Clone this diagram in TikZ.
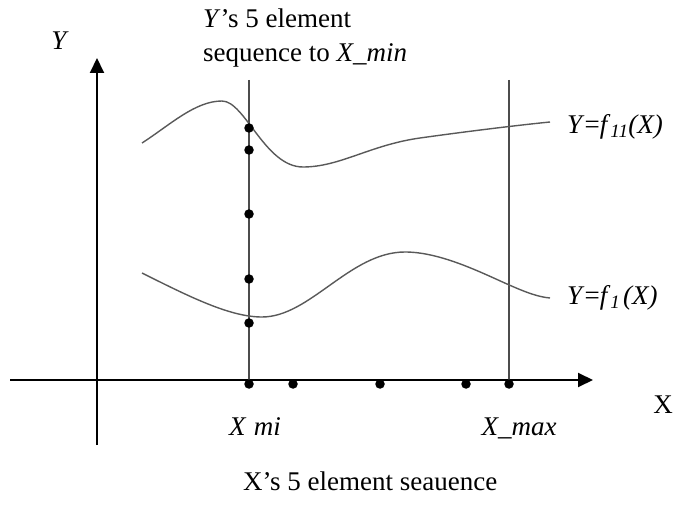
\documentclass[tikz,border=0pt]{standalone}
\usepackage{fontspec}
\setmainfont{Liberation Serif}
\usetikzlibrary{arrows.meta}
\begin{document}
\begin{tikzpicture}[x=1pt,y=-1pt,
  axis/.style={line width=2pt,black,-{Triangle[length=15pt,width=14pt]}},
  guide/.style={line width=1.6pt,black!70},
  curve/.style={line width=1.4pt,black!65},
  dot/.style={circle,fill=black,inner sep=0pt,minimum size=9.5pt},
  lbl/.style={font=\fontsize{27}{33}\selectfont,inner sep=0pt}]
\useasboundingbox (0,0) rectangle (678,505);
% axes
\coordinate (xs) at (10,380);
\coordinate (xe) at (593,380);
\coordinate (ys) at (97,445);
\coordinate (ye) at (97,58);
\draw[axis] (xs) -- (xe);
\draw[axis] (ys) -- (ye);
% guide lines
\coordinate (g1t) at (249,80);
\coordinate (g1b) at (249,380);
\coordinate (g2t) at (509,80);
\coordinate (g2b) at (509,380);
\draw[guide] (g1t) -- (g1b);
\draw[guide] (g2t) -- (g2b);
% curves
\draw[curve] (142,143) .. controls (170,125) and (195,101) .. (222,101)
  .. controls (245,101) and (265,167) .. (303,167)
  .. controls (340,167) and (370,145) .. (420,138)
  .. controls (470,131) and (520,125) .. (550,122);
\draw[curve] (142,273) .. controls (190,297) and (230,317) .. (262,317)
  .. controls (310,317) and (350,252) .. (405,252)
  .. controls (440,252) and (480,272) .. (507,284)
  .. controls (525,292) and (538,297) .. (550,298);
% dots on vertical line
\node[dot] (v1) at (249,128) {};
\node[dot] (v2) at (249,150) {};
\node[dot] (v3) at (249,214) {};
\node[dot] (v4) at (249,279) {};
\node[dot] (v5) at (249,323) {};
% dots on x axis
\node[dot] (h1) at (249,384) {};
\node[dot] (h2) at (293,384) {};
\node[dot] (h3) at (380,384) {};
\node[dot] (h4) at (466,384) {};
\node[dot] (h5) at (509,384) {};
% labels
\node[lbl,anchor=base west] (t1) at (203,28) {\textit{Y}’s 5 element};
\node[lbl,anchor=base west] (t2) at (203,62) {sequence to \textit{X\_min}};
\node[lbl] (ylab) at (60,41) {\textit{Y}};
\node[lbl] (xlab) at (663,405) {X};
\node[lbl,anchor=base] (xmin) at (255,435) {\textit{X\kern0.3em mi}};
\node[lbl,anchor=base] (xmax) at (519,435) {\textit{X\_max}};
\node[lbl,anchor=base west] (bot) at (243,490) {X’s 5 element seauence};
\node[lbl,anchor=west] (f11) at (567,127) {\textit{Y}=\textit{f}\textsubscript{\textit{11}}\textit{(X)}};
\node[lbl,anchor=west] (f1) at (567,298) {\textit{Y}=\textit{f}\textsubscript{\textit{1}}\kern0.1em\textit{(X)}};
\end{tikzpicture}
\end{document}
